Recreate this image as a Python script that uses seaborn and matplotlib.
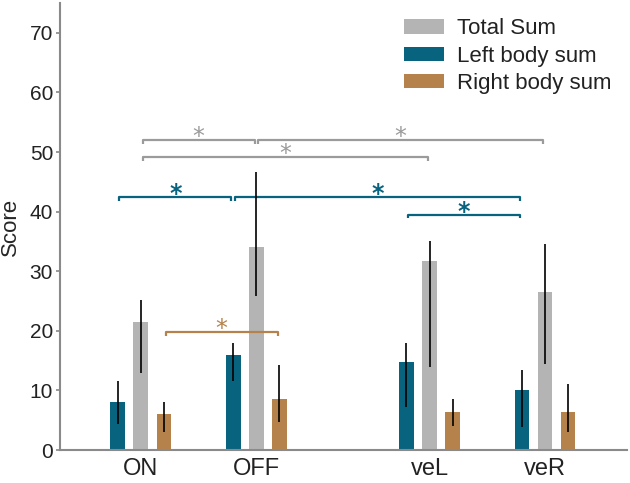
import numpy as np
import pandas as pd
import matplotlib
matplotlib.use("Agg")
import matplotlib.pyplot as plt
import seaborn as sns
from matplotlib.patches import Patch

# ---------------- data ----------------
conditions = ["ON", "OFF", "veL", "veR"]
positions = [1.0, 2.0, 3.5, 4.5]
series = ["Left body sum", "Total Sum", "Right body sum"]
legend_order = ["Total Sum", "Left body sum", "Right body sum"]

left_vals = [8.0, 16.0, 14.8, 10.0]
total_vals = [21.5, 34.0, 31.7, 26.5]
right_vals = [6.0, 8.5, 6.3, 6.3]

left_lo = [4.4, 11.6, 7.2, 3.9]
left_hi = [11.6, 18.0, 18.0, 13.5]
total_lo = [13.0, 25.9, 14.0, 14.5]
total_hi = [25.2, 46.7, 35.1, 34.5]
right_lo = [3.0, 4.7, 4.0, 3.0]
right_hi = [8.1, 14.3, 8.5, 11.0]

y_ticks = [0, 10, 20, 30, 40, 50, 60, 70]

# significance brackets: (series, from, to, level)
brackets = [
    ("Total Sum", "ON", "OFF", 52.0),
    ("Total Sum", "OFF", "veR", 52.0),
    ("Total Sum", "ON", "veL", 49.1),
    ("Left body sum", "ON", "OFF", 42.4),
    ("Left body sum", "OFF", "veR", 42.4),
    ("Left body sum", "veL", "veR", 39.45),
    ("Right body sum", "ON", "OFF", 19.75),
]

colors = {"Left body sum": "#07637E", "Total Sum": "#B4B4B4", "Right body sum": "#B5824B"}
bracket_colors = {"Left body sum": "#07637E", "Total Sum": "#9B9B9B", "Right body sum": "#B5824B"}
star_weights = {"Left body sum": "bold", "Total Sum": "normal", "Right body sum": "normal"}

values = {"Left body sum": left_vals, "Total Sum": total_vals, "Right body sum": right_vals}
lows = {"Left body sum": left_lo, "Total Sum": total_lo, "Right body sum": right_lo}
highs = {"Left body sum": left_hi, "Total Sum": total_hi, "Right body sum": right_hi}

rows = []
for s in series:
    for c, p, v in zip(conditions, positions, values[s]):
        rows.append({"cond": c, "pos": p, "series": s, "value": v})
df = pd.DataFrame(rows)

# ---------------- plot ----------------
sns.set_theme(style="white")
plt.rcParams["font.family"] = ["Liberation Sans", "DejaVu Sans"]

fig = plt.figure(figsize=(6.3, 4.83), dpi=100)
ax = fig.add_axes([60 / 630, 1 - 450 / 483, (627 - 60) / 630, (450 - 3) / 483])

sns.barplot(data=df, x="pos", y="value", hue="series", hue_order=series,
            palette=colors, native_scale=True, width=0.6, gap=0.36,
            errorbar=None, saturation=1, linewidth=0, legend=False, ax=ax)

# error bars & bar centre lookup
centers = {}
for patch in ax.patches:
    if patch.get_height() == 0 and patch.get_width() == 0:
        continue
    cx = patch.get_x() + patch.get_width() / 2
    gi = int(np.argmin([abs(cx - p) for p in positions]))
    si = int(round((cx - positions[gi]) / 0.2)) + 1
    if 0 <= si < 3:
        centers[(series[si], conditions[gi])] = cx

for s in series:
    for i, c in enumerate(conditions):
        if (s, c) in centers:
            ax.vlines(centers[(s, c)], lows[s][i], highs[s][i], color="black", lw=1.2, zorder=5)

# brackets
tick_len = 0.6
shrink = 0.015
for s, c1, c2, lvl in brackets:
    x1 = centers[(s, c1)] + shrink
    x2 = centers[(s, c2)] - shrink
    col = bracket_colors[s]
    ax.plot([x1, x1, x2, x2], [lvl - tick_len, lvl, lvl, lvl - tick_len],
            color=col, lw=1.6, solid_capstyle="butt", zorder=4)
    ax.text((x1 + x2) / 2, lvl - 0.65, "*", color=col, fontsize=17,
            fontweight=star_weights[s], ha="center", va="baseline", family="DejaVu Sans")

# axes styling
ax.set_xlim(0.3, 5.21)
ax.set_ylim(0, 75)
ax.set_xticks(positions)
ax.set_xticklabels(conditions, fontsize=17)
ax.set_yticks(y_ticks)
ax.set_yticklabels([str(t) for t in y_ticks], fontsize=15)
ax.set_xlabel("")
ax.set_ylabel("Score", fontsize=16, labelpad=6)
ax.tick_params(axis="x", length=0, pad=6, colors="#222222")
ax.tick_params(axis="y", length=3, width=1.2, pad=2, colors="#222222", left=True, color="#888888")
for side in ["top", "right"]:
    ax.spines[side].set_visible(False)
for side in ["left", "bottom"]:
    ax.spines[side].set_color("#8A8A8A")
    ax.spines[side].set_linewidth(1.5)

handles = [Patch(facecolor=colors[s], edgecolor="none", label=s) for s in legend_order]
ax.legend(handles=handles, loc="upper left", bbox_to_anchor=(404 / 630, 1 - 18.5 / 483),
          bbox_transform=fig.transFigure, frameon=False, fontsize=16,
          borderpad=0, borderaxespad=0, handlelength=1.8, handleheight=0.63,
          handletextpad=0.6, labelspacing=0.28, labelcolor="#222222")

fig.savefig("out.png", dpi=100)
